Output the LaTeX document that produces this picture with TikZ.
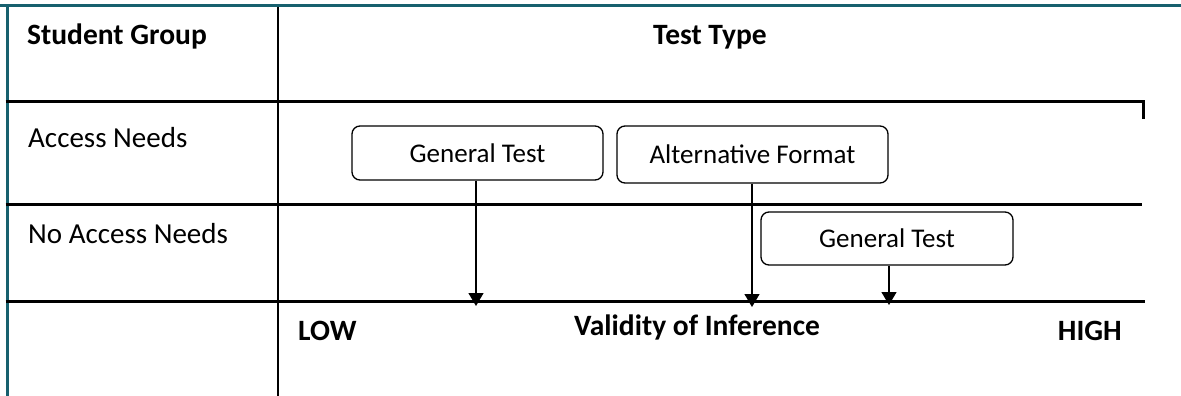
\documentclass[tikz,border=0pt]{standalone}
\usepackage{fontspec}
\setmainfont{Carlito}
\usetikzlibrary{arrows.meta}
\definecolor{frameteal}{HTML}{17606E}
\tikzset{
  rule/.style={line width=3pt, black},
  colrule/.style={line width=2pt, black},
  frame/.style={line width=3pt, frameteal},
  testbox/.style={draw, line width=1.3pt, rounded corners=8pt, inner sep=0pt, font=\fontsize{27}{31}\selectfont},
  label/.style={inner sep=0pt, font=\fontsize{29}{33}\selectfont},
  head/.style={inner sep=0pt, font=\bfseries\fontsize{29.5}{34}\selectfont},
  flow/.style={line width=1.3pt, -{Triangle[length=13pt,width=15pt]}}
}
\begin{document}
\begin{tikzpicture}[x=1pt,y=-1pt]
\useasboundingbox (0,0) rectangle (1181,396);
% outer frame (top and left edges)
\draw[frame] (0,5.5) -- (1181,5.5);
\draw[frame] (7,5.5) -- (7,396);
% column divider
\draw[colrule] (277.5,7) -- (277.5,396);
% row rules
\draw[rule] (5.5,101.5) -- (1143,101.5) -- (1143,119);
\draw[rule] (5.5,204) -- (1142,204);
\draw[rule] (5.5,301.5) -- (1145,301.5);
% headings
\node[head, anchor=base west] (hgroup) at (27,45) {Student Group};
\node[head, anchor=base] (htype) at (710,45) {Test Type};
% row labels
\node[label, anchor=base west] (racc) at (28,147) {Access Needs};
\node[label, anchor=base west] (rnoacc) at (28,243) {No Access Needs};
% scale labels
\node[head, anchor=base west] (low) at (298,340) {LOW};
\node[head, anchor=base] (validity) at (697,335) {Validity of Inference};
\node[head, anchor=base east] (high) at (1122,340) {HIGH};
% test boxes
\node[testbox, minimum width=251pt, minimum height=54pt] (gen1) at (477.5,153) {General Test};
\node[testbox, minimum width=271pt, minimum height=57pt] (alt) at (752.5,154.5) {Alternative Format};
\node[testbox, minimum width=252pt, minimum height=53pt] (gen2) at (887,238.5) {General Test};
% arrow end points on the scale rule
\coordinate (t1) at (476,306);
\coordinate (t2) at (752,307);
\coordinate (t3) at (889,305);
\draw[flow] (gen1.south -| t1) -- (t1);
\draw[flow] (alt.south -| t2) -- (t2);
\draw[flow] (gen2.south -| t3) -- (t3);
\end{tikzpicture}
\end{document}
